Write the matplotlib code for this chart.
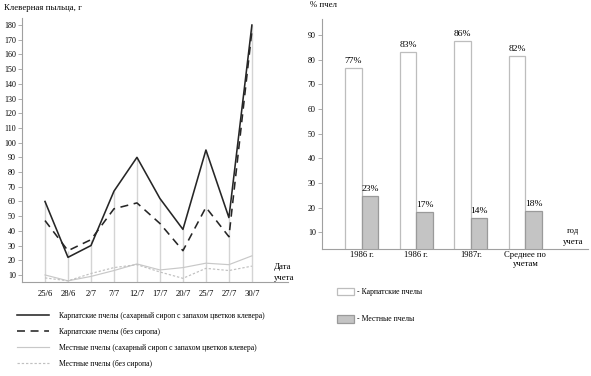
import matplotlib
matplotlib.use("Agg")
import matplotlib.pyplot as plt
from matplotlib.patches import Patch
import numpy as np

plt.rcParams['font.family'] = ['Liberation Serif', 'DejaVu Serif']

# ---- data: left chart ----
dates = ["25/6", "28/6", "2/7", "7/7", "12/7", "17/7", "20/7", "25/7", "27/7", "30/7"]
carp_syrup = [60, 22, 30, 67, 90, 62, 41, 95, 49, 180]
carp_nosyrup = [47, 26.5, 34, 55, 59, 45, 26.5, 56, 36, 176]
local_syrup = [10, 6, 9, 13, 17.5, 13.4, 15, 18, 17, 23]
local_nosyrup = [8, 6, 11, 15, 17, 12, 7.7, 14.5, 13, 16]
series_labels = [
    "Карпатские пчелы (сахарный сироп с запахом цветков клевера)",
    "Карпатские пчелы (без сиропа)",
    "Местные пчелы (сахарный сироп с запахом цветков клевера)",
    "Местные пчелы (без сиропа)",
]
left_yticks = list(range(10, 190, 10))

# ---- data: right chart ----
groups = ["1986 г.", "1986 г.", "1987г.", "Среднее по\nучетам"]
carp_pct = [76.8, 83.3, 87.7, 81.5]
local_pct = [24.7, 18.4, 16.0, 18.8]
carp_lbl = ["77%", "83%", "86%", "82%"]
local_lbl = ["23%", "17%", "14%", "18%"]
bar_legend = ["- Карпатские пчелы", "- Местные пчелы"]
right_yticks = list(range(10, 100, 10))

W, H = 591, 376
fig = plt.figure(figsize=(W / 100, H / 100), dpi=100)

axis_col = "#a0a0a0"
fs_tick = 5.8

# ---------- left chart ----------
axL = fig.add_axes([22 / W, 1 - 282.3 / H, 266 / W, (282.3 - 18) / H])
x = np.arange(len(dates))
tops = np.max(np.vstack([carp_syrup, carp_nosyrup, local_syrup, local_nosyrup]), axis=0)
axL.vlines(x, 5, tops, color="#d4d4d4", lw=1.0, zorder=1)
l1, = axL.plot(x, carp_syrup, color="#262626", lw=1.15, zorder=4)
l2, = axL.plot(x, carp_nosyrup, color="#262626", lw=1.15, dashes=(5, 3.5), zorder=4)
l3, = axL.plot(x, local_syrup, color="#c8c8c8", lw=0.85, zorder=3)
l4, = axL.plot(x, local_nosyrup, color="#c0c0c0", lw=0.85, dashes=(2, 1.6), zorder=3)
axL.set_xlim(-1.0, 10.57)
axL.set_ylim(5, 184.8)
axL.set_xticks(x)
axL.set_xticklabels(dates, fontsize=fs_tick + 0.4)
axL.set_yticks(left_yticks)
axL.set_yticklabels([str(v) for v in left_yticks], fontsize=fs_tick)
axL.tick_params(axis="x", length=0, pad=5.5)
axL.tick_params(axis="y", length=3, width=0.6, color=axis_col, pad=1.5)
for s in ["top", "right"]:
    axL.spines[s].set_visible(False)
for s in ["left", "bottom"]:
    axL.spines[s].set_color(axis_col)
    axL.spines[s].set_linewidth(0.8)
fig.text(4 / W, 1 - 8 / H, "Клеверная пыльца, г", fontsize=6.3, va="center", ha="left")
fig.text(274 / W, 1 - 267 / H, "Дата", fontsize=6.3, va="center", ha="left")
fig.text(274 / W, 1 - 277.5 / H, "учета", fontsize=6.3, va="center", ha="left")

legL = fig.legend([l1, l2, l3, l4], series_labels, loc="upper left",
                  bbox_to_anchor=(17 / W, 1 - 311.5 / H), frameon=False,
                  fontsize=5.5, handlelength=4.2, handletextpad=1.3,
                  labelspacing=1.05, borderaxespad=0, borderpad=0)

# ---------- right chart ----------
axR = fig.add_axes([322 / W, 1 - 248.7 / H, 266 / W, (248.7 - 19) / H])
g = np.arange(len(groups))
bw = 0.3
axR.bar(g - bw / 2, carp_pct, bw, color="white", edgecolor="#bdbdbd", lw=0.9, zorder=2)
axR.bar(g + bw / 2, local_pct, bw, color="#c4c4c4", edgecolor="#9a9a9a", lw=0.9, zorder=2)
for i in range(len(groups)):
    axR.annotate(carp_lbl[i], (g[i] - bw / 2, carp_pct[i]), xytext=(0, 2),
                 textcoords="offset points", ha="center", va="bottom", fontsize=6.8)
    axR.annotate(local_lbl[i], (g[i] + bw / 2, local_pct[i]), xytext=(0, 2),
                 textcoords="offset points", ha="center", va="bottom", fontsize=6.8)
axR.set_xlim(-0.73, 4.15)
axR.set_ylim(3.4, 96.5)
axR.set_xticks(g)
axR.set_xticklabels(groups, fontsize=fs_tick + 0.4, linespacing=1.05)
axR.set_yticks(right_yticks)
axR.set_yticklabels([str(v) for v in right_yticks], fontsize=fs_tick)
axR.tick_params(axis="x", length=0, pad=2)
axR.tick_params(axis="y", length=3, width=0.6, color=axis_col, pad=1.5)
for s in ["top", "right"]:
    axR.spines[s].set_visible(False)
for s in ["left", "bottom"]:
    axR.spines[s].set_color(axis_col)
    axR.spines[s].set_linewidth(0.8)
fig.text(310 / W, 1 - 5 / H, "% пчел", fontsize=6.3, va="center", ha="left")
fig.text(573 / W, 1 - 231 / H, "год", fontsize=6.3, va="center", ha="center")
fig.text(573 / W, 1 - 241.5 / H, "учета", fontsize=6.3, va="center", ha="center")

fig.legend([Patch(facecolor="white", edgecolor="#bdbdbd", lw=0.9),
            Patch(facecolor="#c4c4c4", edgecolor="#9a9a9a", lw=0.9)],
           bar_legend, loc="upper left", bbox_to_anchor=(337 / W, 1 - 287.5 / H),
           frameon=False, fontsize=5.6, handlelength=2.2, handleheight=1.2,
           handletextpad=0.4, labelspacing=2.4, borderaxespad=0, borderpad=0)

fig.savefig("out.png", dpi=100)
